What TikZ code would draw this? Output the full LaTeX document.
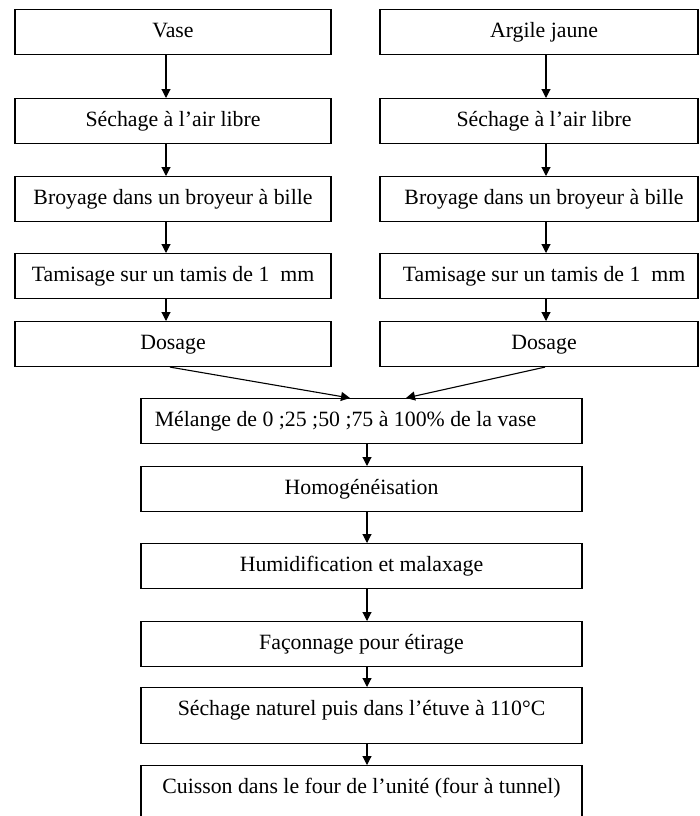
\documentclass[tikz,border=0pt]{standalone}
\usepackage{fontspec}
\setmainfont{Liberation Serif}
\usetikzlibrary{arrows.meta}
\begin{document}
\begin{tikzpicture}[x=1pt,y=-1pt,
  box/.style={draw=black, line width=1.1pt, inner xsep=0pt, inner ysep=0pt,
    text height=28pt, text depth=17pt, anchor=north,
    font=\fontsize{21.8}{24}\selectfont},
  lbox/.style={box, minimum width=316pt},
  rbox/.style={box, minimum width=318pt},
  cbox/.style={box, minimum width=441pt},
  arr/.style={-{Triangle[length=9pt,width=9pt]}, line width=1.1pt}]
\useasboundingbox (0,0) rectangle (699,816);
\clip (0,0) rectangle (699,816);
% left column
\node[lbox] (l1) at (173,9)   {Vase};
\node[lbox] (l2) at (173,98)  {Séchage à l’air libre};
\node[lbox] (l3) at (173,176) {Broyage dans un broyeur à bille};
\node[lbox] (l4) at (173,253) {Tamisage sur un tamis de 1\ \ mm};
\node[lbox] (l5) at (173,321) {Dosage};
% right column
\node[rbox] (r1) at (539,9)   {\hspace*{10pt}Argile jaune};
\node[rbox] (r2) at (539,98)  {\hspace*{10pt}Séchage à l’air libre};
\node[rbox] (r3) at (539,176) {\hspace*{10pt}Broyage dans un broyeur à bille};
\node[rbox] (r4) at (539,253) {\hspace*{10pt}Tamisage sur un tamis de 1\ \ mm};
\node[rbox] (r5) at (539,321) {\hspace*{10pt}Dosage};
% central column
\node[cbox] (m)  at (361.5,398) {Mélange de 0 ;25 ;50 ;75 à 100\% de la vase\hspace*{32pt}};
\node[cbox] (h)  at (361.5,466) {Homogénéisation};
\node[cbox] (hu) at (361.5,543) {Humidification et malaxage};
\node[cbox] (f)  at (361.5,621) {Façonnage pour étirage};
\node[cbox, text depth=28pt] (s) at (361.5,687) {Séchage naturel puis dans l’étuve à 110°C};
\node[cbox, text depth=42pt] (c) at (361.5,765) {Cuisson dans le four de l’unité (four à tunnel)};
% arrows left
\foreach \a/\b in {l1/l2,l2/l3,l3/l4,l4/l5}
  \draw[arr] ([xshift=-7pt]\a.south) -- ([xshift=-7pt]\b.north);
% arrows right
\foreach \a/\b in {r1/r2,r2/r3,r3/r4,r4/r5}
  \draw[arr] ([xshift=7pt]\a.south) -- ([xshift=7pt]\b.north);
% merge
\draw[arr] ([xshift=-3pt]l5.south) -- ([xshift=-11.5pt]m.north);
\draw[arr] ([xshift=6pt]r5.south) -- ([xshift=44.5pt]m.north);
% arrows center
\foreach \a/\b in {m/h,h/hu,hu/f,f/s,s/c}
  \draw[arr] ([xshift=5.5pt]\a.south) -- ([xshift=5.5pt]\b.north);
\end{tikzpicture}
\end{document}
